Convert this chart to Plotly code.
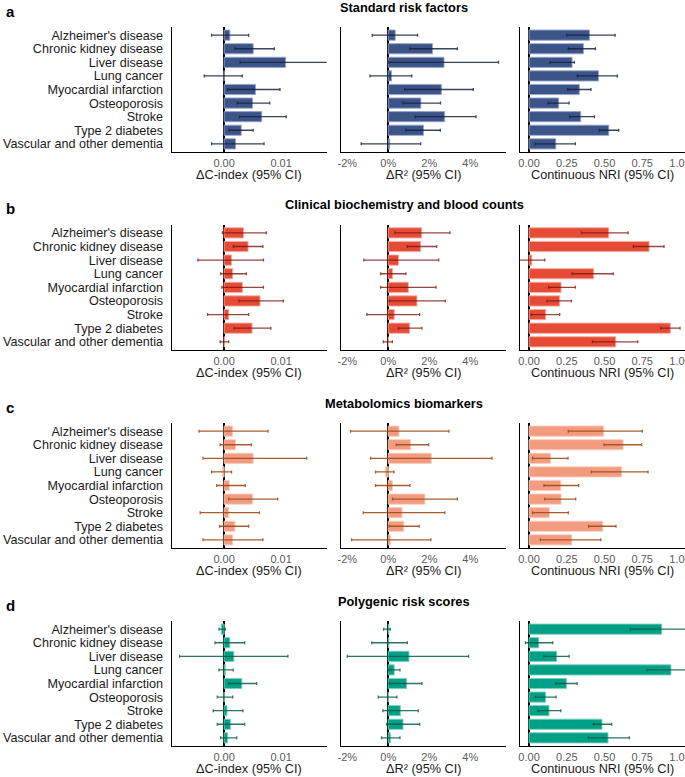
import plotly.graph_objects as go

categories = ["Alzheimer's disease", "Chronic kidney disease", "Liver disease", "Lung cancer",
              "Myocardial infarction", "Osteoporosis", "Stroke", "Type 2 diabetes",
              "Vascular and other dementia"]

row_titles = ["Standard risk factors", "Clinical biochemistry and blood counts",
              "Metabolomics biomarkers", "Polygenic risk scores"]
row_letters = ["a", "b", "c", "d"]
metric_titles = ["ΔC-index (95% CI)", "ΔR² (95% CI)", "Continuous NRI (95% CI)"]

cidx_ticks = [0, 0.01]
cidx_ticklabels = ["0.00", "0.01"]
r2_ticks = [-2, 0, 2, 4]
r2_ticklabels = ["-2%", "0%", "2%", "4%"]
nri_ticks = [0, 0.25, 0.5, 0.75, 1.0]
nri_ticklabels = ["0.00", "0.25", "0.50", "0.75", "1.00"]

# ---- a: Standard risk factors ----
a_cidx = [0.0010, 0.0051, 0.0108, 0.0000, 0.0055, 0.0050, 0.0066, 0.0030, 0.0020]
a_cidx_lo = [-0.0022, 0.0019, 0.0028, -0.0035, 0.0006, 0.0023, 0.0027, 0.0009, -0.0022]
a_cidx_hi = [0.0043, 0.0088, 0.0190, 0.0032, 0.0098, 0.0080, 0.0109, 0.0051, 0.0070]
a_r2 = [0.34, 2.16, 2.72, 0.16, 2.59, 1.59, 2.75, 1.72, 0.07]
a_r2_lo = [-0.78, 1.06, 0.03, -0.89, 0.80, 0.72, 1.32, 0.85, -1.32]
a_r2_hi = [1.43, 3.37, 5.38, 1.15, 4.15, 2.55, 4.28, 2.54, 1.58]
a_nri = [0.40, 0.36, 0.285, 0.46, 0.333, 0.196, 0.342, 0.528, 0.177]
a_nri_lo = [0.25, 0.26, 0.14, 0.32, 0.256, 0.128, 0.27, 0.466, 0.042]
a_nri_hi = [0.57, 0.44, 0.30, 0.585, 0.41, 0.265, 0.433, 0.594, 0.307]

# ---- b: Clinical biochemistry and blood counts ----
b_cidx = [0.0034, 0.0042, 0.0013, 0.0015, 0.0032, 0.0063, 0.0008, 0.0049, 0.0001]
b_cidx_lo = [-0.0003, 0.0016, -0.0046, -0.0006, -0.0004, 0.0026, -0.0029, 0.0018, -0.0007]
b_cidx_hi = [0.0074, 0.0068, 0.0069, 0.0039, 0.0069, 0.0104, 0.0043, 0.0082, 0.0008]
b_r2 = [1.63, 1.58, 0.50, 0.21, 0.98, 1.40, 0.29, 1.04, 0.01]
b_r2_lo = [0.33, 0.93, -1.19, -0.37, -0.37, 0.05, -1.04, 0.50, -0.24]
b_r2_hi = [3.01, 2.36, 2.46, 0.86, 2.33, 2.78, 1.53, 1.64, 0.20]
b_nri = [0.528, 0.795, 0.018, 0.428, 0.212, 0.203, 0.110, 0.936, 0.574]
b_nri_lo = [0.347, 0.691, -0.065, 0.285, 0.130, 0.119, 0.015, 0.872, 0.42]
b_nri_hi = [0.656, 0.894, 0.104, 0.558, 0.307, 0.28, 0.203, 1.00, 0.72]

# ---- c: Metabolomics biomarkers ----
c_cidx = [0.0015, 0.0020, 0.0051, -0.0003, 0.0009, 0.0050, 0.0008, 0.0019, 0.0015]
c_cidx_lo = [-0.0044, -0.0007, -0.0037, -0.0022, -0.0013, 0.0008, -0.0042, -0.0008, -0.0037]
c_cidx_hi = [0.0077, 0.0048, 0.0145, 0.0013, 0.0037, 0.0094, 0.0062, 0.0043, 0.0068]
c_r2 = [0.52, 1.09, 2.10, -0.13, 0.20, 1.79, 0.67, 0.76, 0.11]
c_r2_lo = [-1.84, 0.39, -0.86, -0.62, -0.62, 0.21, -1.22, 0.05, -1.79]
c_r2_hi = [2.96, 1.97, 5.06, 0.28, 1.06, 3.37, 2.76, 1.51, 2.08]
c_nri = [0.494, 0.623, 0.143, 0.614, 0.21, 0.212, 0.135, 0.488, 0.283]
c_nri_lo = [0.26, 0.497, 0.024, 0.413, 0.099, 0.104, 0.024, 0.395, 0.075]
c_nri_hi = [0.75, 0.746, 0.258, 0.788, 0.329, 0.309, 0.26, 0.576, 0.475]

# ---- d: Polygenic risk scores ----
d_cidx = [-0.0005, 0.0010, 0.0017, 0.0002, 0.0031, 0.0000, 0.0005, 0.0011, 0.0006]
d_cidx_lo = [-0.0009, -0.0016, -0.0078, -0.0009, 0.0008, -0.0012, -0.0019, -0.0012, -0.0006]
d_cidx_hi = [0.0002, 0.0036, 0.0112, 0.0016, 0.0057, 0.0015, 0.0033, 0.0036, 0.0022]
d_r2 = [0.03, 0.03, 1.01, 0.29, 0.89, 0.00, 0.59, 0.72, 0.10]
d_r2_lo = [-0.23, -0.80, -2.00, 0.03, 0.05, -0.49, -0.26, -0.08, -0.33]
d_r2_hi = [0.10, 0.93, 3.92, 0.57, 1.64, 0.42, 1.46, 1.53, 0.57]
d_nri = [0.879, 0.064, 0.183, 0.94, 0.247, 0.11, 0.132, 0.483, 0.523]
d_nri_lo = [0.671, -0.024, 0.099, 0.781, 0.177, 0.042, 0.06, 0.426, 0.393]
d_nri_hi = [1.08, 0.157, 0.265, 1.10, 0.318, 0.179, 0.21, 0.547, 0.664]

fill_colors = ["#3C5488", "#E64B35", "#F39B7F", "#00A087"]
edge_colors = ["rgba(150,165,205,0.9)", "rgba(250,170,160,0.9)", "rgba(252,205,190,0.9)", "rgba(120,210,190,0.9)"]
err_colors = ["rgba(22,34,66,0.85)", "rgba(125,22,12,0.8)", "rgba(160,75,25,0.9)", "rgba(12,90,72,0.85)"]

data = [
    [(a_cidx, a_cidx_lo, a_cidx_hi), (a_r2, a_r2_lo, a_r2_hi), (a_nri, a_nri_lo, a_nri_hi)],
    [(b_cidx, b_cidx_lo, b_cidx_hi), (b_r2, b_r2_lo, b_r2_hi), (b_nri, b_nri_lo, b_nri_hi)],
    [(c_cidx, c_cidx_lo, c_cidx_hi), (c_r2, c_r2_lo, c_r2_hi), (c_nri, c_nri_lo, c_nri_hi)],
    [(d_cidx, d_cidx_lo, d_cidx_hi), (d_r2, d_r2_lo, d_r2_hi), (d_nri, d_nri_lo, d_nri_hi)],
]

W, H = 685, 777
col_px = [(171.7, 326.7), (340.5, 505.7), (520.0, 685.0)]
row_px = [(27.0, 152.0), (224.7, 350.0), (423.0, 548.0), (621.0, 746.0)]
x_ranges = [[-0.0092, 0.0180], [-2.33, 5.73], [-0.06, 1.033]]
x_ticks = [(cidx_ticks, cidx_ticklabels), (r2_ticks, r2_ticklabels), (nri_ticks, nri_ticklabels)]

FONT = "Liberation Sans, Arial, Helvetica, sans-serif"

fig = go.Figure()
layout = dict(width=W, height=H, margin=dict(l=0, r=0, t=0, b=0),
              paper_bgcolor="white", plot_bgcolor="white", showlegend=False,
              font=dict(family=FONT, color="black"))
annotations = []

for r in range(4):
    for c in range(3):
        n = r * 3 + c + 1
        sfx = "" if n == 1 else str(n)
        vals, lo, hi = data[r][c]
        plus = [h - v for v, h in zip(vals, hi)]
        minus = [v - l for v, l in zip(vals, lo)]
        fig.add_trace(go.Bar(
            x=vals, y=categories, orientation="h", width=0.75,
            marker=dict(color=fill_colors[r], line=dict(color=edge_colors[r], width=1)),
            error_x=dict(type="data", symmetric=False, array=plus, arrayminus=minus,
                         color=err_colors[r], thickness=1.3, width=1.5),
            xaxis="x" + sfx, yaxis="y" + sfx, hoverinfo="x+y"))
        x0, x1 = col_px[c]
        yt, yb = row_px[r]
        tv, tt = x_ticks[c]
        layout["xaxis" + sfx] = dict(
            domain=[x0 / W, x1 / W], anchor="y" + sfx, range=x_ranges[c],
            tickmode="array", tickvals=tv, ticktext=tt, ticks="", showgrid=False,
            showline=True, linecolor="black", linewidth=1.2,
            zeroline=True, zerolinecolor="black", zerolinewidth=1.6,
            layer="above traces", ticklabelstandoff=1, ticklabeloverflow="allow",
            tickfont=dict(size=11, color="#5a5a5a", family=FONT), automargin=False)
        layout["yaxis" + sfx] = dict(
            domain=[1 - yb / H, 1 - yt / H], anchor="x" + sfx,
            categoryorder="array", categoryarray=categories[::-1],
            tickmode="array", tickvals=categories, ticktext=categories,
            range=[-0.6, 8.6], ticks="", showgrid=False,
            showline=True, linecolor="black", linewidth=1.2, zeroline=False,
            showticklabels=(c == 0), ticklabelstandoff=5,
            tickfont=dict(size=12.6, color="#1a1a1a", family=FONT), automargin=False)
        annotations.append(dict(
            text=metric_titles[c], x=(x0 + x1) / 2 / W, y=1 - (yb + 23) / H,
            xref="paper", yref="paper", xanchor="center", yanchor="middle",
            showarrow=False, font=dict(size=12.7, color="#1a1a1a", family=FONT)))
    yt = row_px[r][0]
    annotations.append(dict(
        text="<b>" + row_titles[r] + "</b>", x=404 / W, y=1 - (yt - 20) / H,
        xref="paper", yref="paper", xanchor="center", yanchor="middle",
        showarrow=False, font=dict(size=12.8, color="black", family=FONT)))
    annotations.append(dict(
        text="<b>" + row_letters[r] + "</b>", x=4 / W, y=1 - (yt - 16) / H,
        xref="paper", yref="paper", xanchor="left", yanchor="middle",
        showarrow=False, font=dict(size=15, color="black", family=FONT)))

layout["annotations"] = annotations
fig.update_layout(**layout)
fig.write_html("out.html", config={"displayModeBar": False},
               post_script="document.body.style.margin='0';document.body.style.overflow='hidden';")
